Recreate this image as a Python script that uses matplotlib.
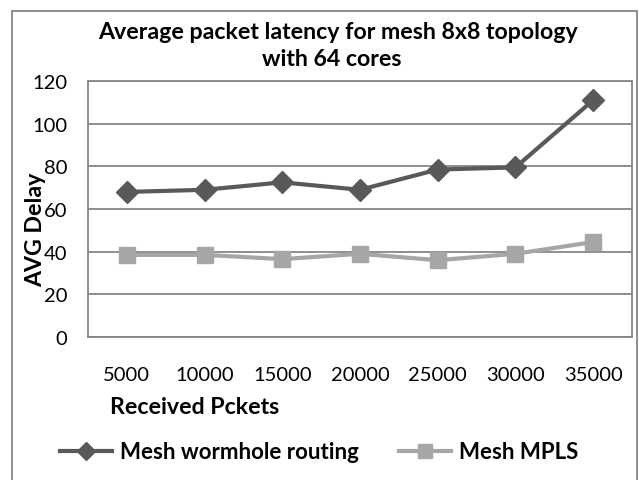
import numpy as np
import matplotlib
matplotlib.use("Agg")
from matplotlib import pyplot as plt
from matplotlib.lines import Line2D
from matplotlib.patches import Rectangle

# ---- data ----
packets = ["5000", "10000", "15000", "20000", "25000", "30000", "35000"]
wormhole = [68, 69, 72.5, 69, 78.5, 79.5, 111]
mpls = [38.5, 38.5, 36.5, 39, 36, 39, 44.5]
y_ticks = [0, 20, 40, 60, 80, 100, 120]

DARK = "#595959"
LIGHT = "#a6a6a6"
GRID = "#868686"

plt.rcParams["font.family"] = ["Lato", "DejaVu Sans"]

W, H = 639, 481
fig = plt.figure(figsize=(W / 100, H / 100), dpi=100)

# plot area in pixels: left 88, right 632, top 82, bottom 338
ax = fig.add_axes([88 / W, 1 - 338 / H, (632 - 88) / W, (338 - 82) / H])

x = np.arange(len(packets))
ax.plot(x, wormhole, color=DARK, lw=3, marker="D", markersize=11,
        markerfacecolor=DARK, markeredgecolor=DARK, label="Mesh wormhole routing", zorder=3)
ax.plot(x, mpls, color=LIGHT, lw=3, marker="s", markersize=12,
        markerfacecolor=LIGHT, markeredgecolor=LIGHT, label="Mesh MPLS", zorder=3)

ax.set_xlim(-0.5, len(packets) - 0.5)
ax.set_ylim(0, 120)
ax.set_xticks(x)
ax.set_xticklabels(packets)
ax.set_yticks(y_ticks)
ax.tick_params(axis="both", length=0, labelsize=14.5, labelcolor="black")
ax.tick_params(axis="y", pad=15)
ax.tick_params(axis="x", pad=21)
ax.yaxis.grid(True, color=GRID, lw=1.3)
ax.set_axisbelow(True)
for s in ax.spines.values():
    s.set_color(GRID)
    s.set_linewidth(1.3)

# titles and labels
TS = 16.7
fig.text(338 / W, 1 - 33 / H, "Average packet latency for mesh 8x8 topology",
         ha="center", va="center", fontsize=TS, fontweight="bold")
fig.text(332 / W, 1 - 60 / H, "with 64 cores",
         ha="center", va="center", fontsize=TS, fontweight="bold")
fig.text(110 / W, 1 - 408 / H, "Received Pckets",
         ha="left", va="center", fontsize=TS, fontweight="bold")
# y label sits over the tick labels, as in the reference
fig.text(36 / W, 1 - 230 / H, "AVG Delay", rotation=90,
         ha="center", va="center", fontsize=TS, fontweight="bold")

handles = [
    Line2D([], [], color=DARK, lw=3, marker="D", markersize=9, markerfacecolor=DARK, markeredgecolor=DARK),
    Line2D([], [], color=LIGHT, lw=3, marker="s", markersize=10, markerfacecolor=LIGHT, markeredgecolor=LIGHT),
]
fig.legend(handles, ["Mesh wormhole routing", "Mesh MPLS"], loc="center left",
           bbox_to_anchor=(60 / W, 1 - 453 / H), ncol=2, frameon=False,
           prop={"size": 16, "weight": "bold"}, handlelength=2.35,
           handletextpad=0.35, columnspacing=1.8, borderpad=0, borderaxespad=0)

# outer chart frame (bottom edge is cut off in the reference)
fig.add_artist(Rectangle((12 / W, -0.05), (637 - 12) / W, (H - 12) / H + 0.05,
                         transform=fig.transFigure, fill=False, ec=GRID, lw=1.3))

fig.savefig("out.png", dpi=100)
